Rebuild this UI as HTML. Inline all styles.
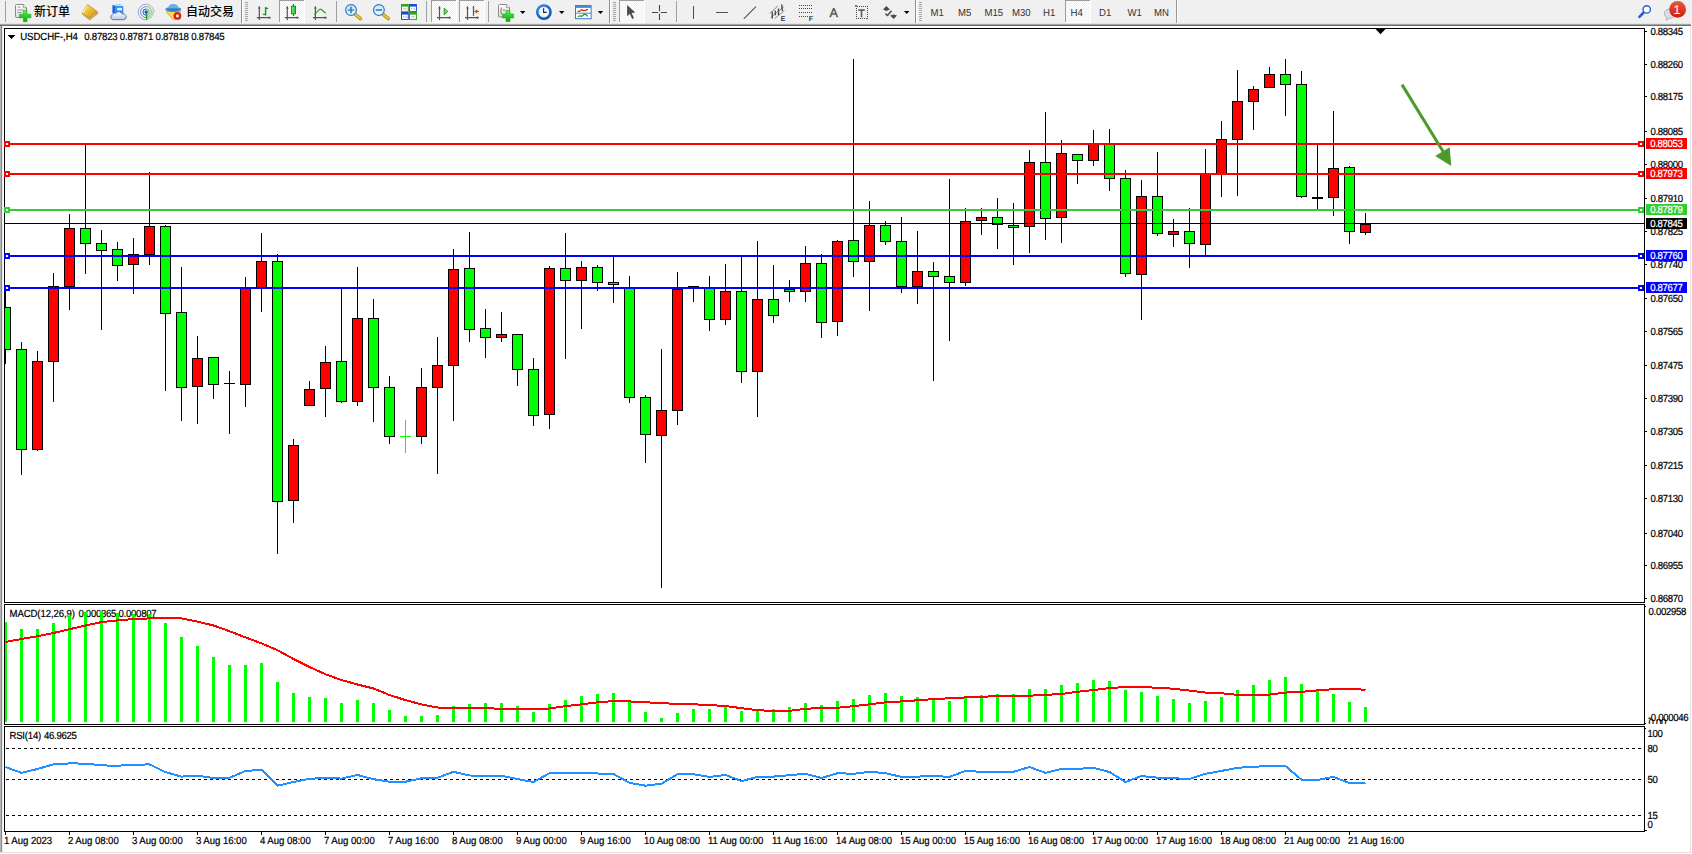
<!DOCTYPE html>
<html><head><meta charset="utf-8"><title>USDCHF-,H4</title>
<style>
html,body{margin:0;padding:0;}
body{width:1692px;height:854px;position:relative;overflow:hidden;background:#fff;font-family:"Liberation Sans","Noto Sans CJK SC",sans-serif;font-size:9.6px;color:#000;text-rendering:geometricPrecision;-webkit-text-stroke:0.2px #000;}
#tb{position:absolute;left:0;top:0;width:1692px;height:24px;background:#f0f0f0;}
#tbline{position:absolute;left:0;top:23px;width:1691px;height:3px;background:linear-gradient(#e4e4e4 0,#e4e4e4 33%,#a4a4a4 33%,#a4a4a4 67%,#6c6c6c 67%);}
#lb{position:absolute;left:0;top:26px;width:3px;height:826px;background:linear-gradient(90deg,#b4b4b4 0,#b4b4b4 33%,#8a8a8a 33%,#8a8a8a 67%,#ececec 67%);}
#rb{position:absolute;left:1690px;top:26px;width:1px;height:827px;background:#e2e2e2;}
#bb{position:absolute;left:0;top:852px;width:1691px;height:1px;background:#e2e2e2;}
svg{position:absolute;left:0;top:0;}
.pl{position:absolute;left:1650.4px;width:40px;height:12px;line-height:12px;white-space:nowrap;letter-spacing:-0.34px;transform:scaleY(1.08);}
.tl{position:absolute;top:836.1px;height:12px;line-height:12px;white-space:nowrap;letter-spacing:-0.05px;transform:scaleY(1.08);}
.tag{position:absolute;left:1646px;width:41px;height:11px;line-height:11px;color:#fff;white-space:nowrap;letter-spacing:-0.34px;-webkit-text-stroke:0.2px #fff;}
.tag span{display:inline-block;margin-left:4.2px;position:relative;top:1.1px;transform:scaleY(1.08);}
.t{position:absolute;white-space:nowrap;line-height:12px;height:12px;letter-spacing:-0.14px;transform:scaleY(1.08);}
#tb .zh{position:absolute;top:3.5px;font-size:12px;font-weight:500;line-height:16px;height:16px;white-space:nowrap;}
#tb .tf{position:absolute;top:7.500px;font-size:9.600px;line-height:12px;color:#333;white-space:nowrap;-webkit-text-stroke:0;transform:scaleY(1.06);}
#tb .zh{-webkit-text-stroke:0;text-rendering:auto;}
#tb .sep{position:absolute;top:1px;width:1px;height:21px;background:#a0a0a0;}
#tb .act{position:absolute;top:0;height:22px;background:#fafafa;border:1px solid #c8c8c8;box-sizing:border-box;}

</style></head><body>
<svg width="1692" height="854" viewBox="0 0 1692 854" shape-rendering="crispEdges">
<clipPath id="cp"><rect x="5" y="29" width="1639" height="574"/></clipPath><g clip-path="url(#cp)"><line x1="5.5" x2="5.5" y1="290.0" y2="363.5" stroke="#000" stroke-width="1"/>
<rect x="0.5" y="307.5" width="10" height="41.5" fill="#00ff00" stroke="#000" stroke-width="1"/>
<line x1="21.5" x2="21.5" y1="342.0" y2="474.5" stroke="#000" stroke-width="1"/>
<rect x="16.5" y="349.0" width="10" height="100.0" fill="#00ff00" stroke="#000" stroke-width="1"/>
<line x1="37.5" x2="37.5" y1="351.0" y2="450.5" stroke="#000" stroke-width="1"/>
<rect x="32.5" y="361.0" width="10" height="88.0" fill="#ff0000" stroke="#000" stroke-width="1"/>
<line x1="53.5" x2="53.5" y1="273.0" y2="401.5" stroke="#000" stroke-width="1"/>
<rect x="48.5" y="286.5" width="10" height="74.5" fill="#ff0000" stroke="#000" stroke-width="1"/>
<line x1="69.5" x2="69.5" y1="214.0" y2="310.0" stroke="#000" stroke-width="1"/>
<rect x="64.5" y="228.0" width="10" height="58.5" fill="#ff0000" stroke="#000" stroke-width="1"/>
<line x1="85.5" x2="85.5" y1="145.0" y2="273.5" stroke="#000" stroke-width="1"/>
<rect x="80.5" y="228.0" width="10" height="15.0" fill="#00ff00" stroke="#000" stroke-width="1"/>
<line x1="101.5" x2="101.5" y1="229.6" y2="329.5" stroke="#000" stroke-width="1"/>
<rect x="96.5" y="243.5" width="10" height="7.0" fill="#00ff00" stroke="#000" stroke-width="1"/>
<line x1="117.5" x2="117.5" y1="241.5" y2="280.5" stroke="#000" stroke-width="1"/>
<rect x="112.5" y="249.7" width="10" height="15.3" fill="#00ff00" stroke="#000" stroke-width="1"/>
<line x1="133.5" x2="133.5" y1="238.0" y2="294.0" stroke="#000" stroke-width="1"/>
<rect x="128.5" y="254.6" width="10" height="9.4" fill="#ff0000" stroke="#000" stroke-width="1"/>
<line x1="149.5" x2="149.5" y1="172.0" y2="264.5" stroke="#000" stroke-width="1"/>
<rect x="144.5" y="226.0" width="10" height="28.0" fill="#ff0000" stroke="#000" stroke-width="1"/>
<line x1="165.5" x2="165.5" y1="225.0" y2="390.5" stroke="#000" stroke-width="1"/>
<rect x="160.5" y="226.0" width="10" height="87.0" fill="#00ff00" stroke="#000" stroke-width="1"/>
<line x1="181.5" x2="181.5" y1="267.0" y2="421.0" stroke="#000" stroke-width="1"/>
<rect x="176.5" y="312.0" width="10" height="75.0" fill="#00ff00" stroke="#000" stroke-width="1"/>
<line x1="197.5" x2="197.5" y1="336.0" y2="423.5" stroke="#000" stroke-width="1"/>
<rect x="192.5" y="358.0" width="10" height="28.0" fill="#ff0000" stroke="#000" stroke-width="1"/>
<line x1="213.5" x2="213.5" y1="357.0" y2="398.5" stroke="#000" stroke-width="1"/>
<rect x="208.5" y="357.0" width="10" height="27.0" fill="#00ff00" stroke="#000" stroke-width="1"/>
<line x1="229.5" x2="229.5" y1="371.0" y2="434.0" stroke="#000" stroke-width="1"/>
<line x1="224" x2="235" y1="383.5" y2="383.5" stroke="#000" stroke-width="1"/>
<line x1="245.5" x2="245.5" y1="276.6" y2="407.0" stroke="#000" stroke-width="1"/>
<rect x="240.5" y="287.7" width="10" height="96.3" fill="#ff0000" stroke="#000" stroke-width="1"/>
<line x1="261.5" x2="261.5" y1="233.0" y2="312.0" stroke="#000" stroke-width="1"/>
<rect x="256.5" y="261.0" width="10" height="26.7" fill="#ff0000" stroke="#000" stroke-width="1"/>
<line x1="277.5" x2="277.5" y1="254.4" y2="553.5" stroke="#000" stroke-width="1"/>
<rect x="272.5" y="261.0" width="10" height="240.0" fill="#00ff00" stroke="#000" stroke-width="1"/>
<line x1="293.5" x2="293.5" y1="438.8" y2="522.8" stroke="#000" stroke-width="1"/>
<rect x="288.5" y="445.0" width="10" height="55.0" fill="#ff0000" stroke="#000" stroke-width="1"/>
<line x1="309.5" x2="309.5" y1="381.0" y2="405.5" stroke="#000" stroke-width="1"/>
<rect x="304.5" y="389.0" width="10" height="16.0" fill="#ff0000" stroke="#000" stroke-width="1"/>
<line x1="325.5" x2="325.5" y1="346.0" y2="416.5" stroke="#000" stroke-width="1"/>
<rect x="320.5" y="362.0" width="10" height="26.0" fill="#ff0000" stroke="#000" stroke-width="1"/>
<line x1="341.5" x2="341.5" y1="288.4" y2="402.5" stroke="#000" stroke-width="1"/>
<rect x="336.5" y="361.3" width="10" height="39.7" fill="#00ff00" stroke="#000" stroke-width="1"/>
<line x1="357.5" x2="357.5" y1="267.0" y2="406.1" stroke="#000" stroke-width="1"/>
<rect x="352.5" y="318.3" width="10" height="82.7" fill="#ff0000" stroke="#000" stroke-width="1"/>
<line x1="373.5" x2="373.5" y1="299.0" y2="422.1" stroke="#000" stroke-width="1"/>
<rect x="368.5" y="318.3" width="10" height="68.7" fill="#00ff00" stroke="#000" stroke-width="1"/>
<line x1="389.5" x2="389.5" y1="376.0" y2="443.5" stroke="#000" stroke-width="1"/>
<rect x="384.5" y="387.0" width="10" height="49.0" fill="#00ff00" stroke="#000" stroke-width="1"/>
<line x1="405.5" x2="405.5" y1="420.0" y2="452.5" stroke="#00ff00" stroke-width="1"/>
<line x1="400" x2="411" y1="436.5" y2="436.5" stroke="#00ff00" stroke-width="1"/>
<line x1="421.5" x2="421.5" y1="368.0" y2="443.5" stroke="#000" stroke-width="1"/>
<rect x="416.5" y="387.0" width="10" height="49.0" fill="#ff0000" stroke="#000" stroke-width="1"/>
<line x1="437.5" x2="437.5" y1="337.0" y2="473.5" stroke="#000" stroke-width="1"/>
<rect x="432.5" y="365.0" width="10" height="22.0" fill="#ff0000" stroke="#000" stroke-width="1"/>
<line x1="453.5" x2="453.5" y1="249.0" y2="420.5" stroke="#000" stroke-width="1"/>
<rect x="448.5" y="269.0" width="10" height="96.0" fill="#ff0000" stroke="#000" stroke-width="1"/>
<line x1="469.5" x2="469.5" y1="232.3" y2="341.5" stroke="#000" stroke-width="1"/>
<rect x="464.5" y="268.3" width="10" height="61.1" fill="#00ff00" stroke="#000" stroke-width="1"/>
<line x1="485.5" x2="485.5" y1="309.0" y2="357.5" stroke="#000" stroke-width="1"/>
<rect x="480.5" y="328.5" width="10" height="8.5" fill="#00ff00" stroke="#000" stroke-width="1"/>
<line x1="501.5" x2="501.5" y1="312.0" y2="341.5" stroke="#000" stroke-width="1"/>
<rect x="496.5" y="334.3" width="10" height="2.7" fill="#ff0000" stroke="#000" stroke-width="1"/>
<line x1="517.5" x2="517.5" y1="334.3" y2="385.5" stroke="#000" stroke-width="1"/>
<rect x="512.5" y="334.3" width="10" height="34.7" fill="#00ff00" stroke="#000" stroke-width="1"/>
<line x1="533.5" x2="533.5" y1="358.0" y2="425.5" stroke="#000" stroke-width="1"/>
<rect x="528.5" y="369.0" width="10" height="46.0" fill="#00ff00" stroke="#000" stroke-width="1"/>
<line x1="549.5" x2="549.5" y1="266.0" y2="428.5" stroke="#000" stroke-width="1"/>
<rect x="544.5" y="268.3" width="10" height="145.7" fill="#ff0000" stroke="#000" stroke-width="1"/>
<line x1="565.5" x2="565.5" y1="233.0" y2="359.0" stroke="#000" stroke-width="1"/>
<rect x="560.5" y="268.3" width="10" height="11.7" fill="#00ff00" stroke="#000" stroke-width="1"/>
<line x1="581.5" x2="581.5" y1="261.0" y2="329.0" stroke="#000" stroke-width="1"/>
<rect x="576.5" y="267.5" width="10" height="12.5" fill="#ff0000" stroke="#000" stroke-width="1"/>
<line x1="597.5" x2="597.5" y1="265.4" y2="290.9" stroke="#000" stroke-width="1"/>
<rect x="592.5" y="267.5" width="10" height="14.5" fill="#00ff00" stroke="#000" stroke-width="1"/>
<line x1="613.5" x2="613.5" y1="256.4" y2="302.5" stroke="#000" stroke-width="1"/>
<rect x="608.5" y="282.0" width="10" height="2.6" fill="#00ff00" stroke="#000" stroke-width="1"/>
<line x1="629.5" x2="629.5" y1="276.0" y2="403.1" stroke="#000" stroke-width="1"/>
<rect x="624.5" y="287.0" width="10" height="110.3" fill="#00ff00" stroke="#000" stroke-width="1"/>
<line x1="645.5" x2="645.5" y1="395.0" y2="463.0" stroke="#000" stroke-width="1"/>
<rect x="640.5" y="397.3" width="10" height="36.7" fill="#00ff00" stroke="#000" stroke-width="1"/>
<line x1="661.5" x2="661.5" y1="349.0" y2="587.5" stroke="#000" stroke-width="1"/>
<rect x="656.5" y="410.4" width="10" height="24.6" fill="#ff0000" stroke="#000" stroke-width="1"/>
<line x1="677.5" x2="677.5" y1="272.0" y2="424.5" stroke="#000" stroke-width="1"/>
<rect x="672.5" y="289.0" width="10" height="121.0" fill="#ff0000" stroke="#000" stroke-width="1"/>
<line x1="693.5" x2="693.5" y1="285.5" y2="302.0" stroke="#000" stroke-width="1"/>
<line x1="688" x2="699" y1="286.0" y2="286.0" stroke="#000" stroke-width="1"/>
<line x1="709.5" x2="709.5" y1="276.0" y2="331.0" stroke="#000" stroke-width="1"/>
<rect x="704.5" y="287.0" width="10" height="32.0" fill="#00ff00" stroke="#000" stroke-width="1"/>
<line x1="725.5" x2="725.5" y1="264.0" y2="324.9" stroke="#000" stroke-width="1"/>
<rect x="720.5" y="291.0" width="10" height="28.0" fill="#ff0000" stroke="#000" stroke-width="1"/>
<line x1="741.5" x2="741.5" y1="256.4" y2="383.1" stroke="#000" stroke-width="1"/>
<rect x="736.5" y="291.0" width="10" height="80.0" fill="#00ff00" stroke="#000" stroke-width="1"/>
<line x1="757.5" x2="757.5" y1="240.7" y2="416.5" stroke="#000" stroke-width="1"/>
<rect x="752.5" y="299.4" width="10" height="71.6" fill="#ff0000" stroke="#000" stroke-width="1"/>
<line x1="773.5" x2="773.5" y1="265.4" y2="322.8" stroke="#000" stroke-width="1"/>
<rect x="768.5" y="299.4" width="10" height="16.0" fill="#00ff00" stroke="#000" stroke-width="1"/>
<line x1="789.5" x2="789.5" y1="280.0" y2="302.0" stroke="#000" stroke-width="1"/>
<rect x="784.5" y="289.0" width="10" height="2.6" fill="#00ff00" stroke="#000" stroke-width="1"/>
<line x1="805.5" x2="805.5" y1="245.7" y2="302.0" stroke="#000" stroke-width="1"/>
<rect x="800.5" y="263.4" width="10" height="28.2" fill="#ff0000" stroke="#000" stroke-width="1"/>
<line x1="821.5" x2="821.5" y1="254.3" y2="338.0" stroke="#000" stroke-width="1"/>
<rect x="816.5" y="263.4" width="10" height="58.9" fill="#00ff00" stroke="#000" stroke-width="1"/>
<line x1="837.5" x2="837.5" y1="240.0" y2="335.9" stroke="#000" stroke-width="1"/>
<rect x="832.5" y="241.0" width="10" height="80.4" fill="#ff0000" stroke="#000" stroke-width="1"/>
<line x1="853.5" x2="853.5" y1="58.8" y2="276.9" stroke="#000" stroke-width="1"/>
<rect x="848.5" y="240.3" width="10" height="20.9" fill="#00ff00" stroke="#000" stroke-width="1"/>
<line x1="869.5" x2="869.5" y1="201.0" y2="310.9" stroke="#000" stroke-width="1"/>
<rect x="864.5" y="225.2" width="10" height="36.0" fill="#ff0000" stroke="#000" stroke-width="1"/>
<line x1="885.5" x2="885.5" y1="220.7" y2="244.5" stroke="#000" stroke-width="1"/>
<rect x="880.5" y="225.2" width="10" height="16.0" fill="#00ff00" stroke="#000" stroke-width="1"/>
<line x1="901.5" x2="901.5" y1="217.0" y2="292.9" stroke="#000" stroke-width="1"/>
<rect x="896.5" y="241.2" width="10" height="45.4" fill="#00ff00" stroke="#000" stroke-width="1"/>
<line x1="917.5" x2="917.5" y1="231.0" y2="303.9" stroke="#000" stroke-width="1"/>
<rect x="912.5" y="271.0" width="10" height="15.6" fill="#ff0000" stroke="#000" stroke-width="1"/>
<line x1="933.5" x2="933.5" y1="262.0" y2="380.5" stroke="#000" stroke-width="1"/>
<rect x="928.5" y="271.0" width="10" height="5.4" fill="#00ff00" stroke="#000" stroke-width="1"/>
<line x1="949.5" x2="949.5" y1="179.3" y2="340.8" stroke="#000" stroke-width="1"/>
<rect x="944.5" y="276.4" width="10" height="5.6" fill="#00ff00" stroke="#000" stroke-width="1"/>
<line x1="965.5" x2="965.5" y1="208.0" y2="285.5" stroke="#000" stroke-width="1"/>
<rect x="960.5" y="221.0" width="10" height="61.0" fill="#ff0000" stroke="#000" stroke-width="1"/>
<line x1="981.5" x2="981.5" y1="208.0" y2="234.7" stroke="#000" stroke-width="1"/>
<rect x="976.5" y="217.4" width="10" height="2.9" fill="#ff0000" stroke="#000" stroke-width="1"/>
<line x1="997.5" x2="997.5" y1="197.7" y2="248.5" stroke="#000" stroke-width="1"/>
<rect x="992.5" y="217.4" width="10" height="6.9" fill="#00ff00" stroke="#000" stroke-width="1"/>
<line x1="1013.5" x2="1013.5" y1="203.0" y2="265.0" stroke="#000" stroke-width="1"/>
<rect x="1008.5" y="225.6" width="10" height="1.6" fill="#00ff00" stroke="#000" stroke-width="1"/>
<line x1="1029.5" x2="1029.5" y1="149.8" y2="252.7" stroke="#000" stroke-width="1"/>
<rect x="1024.5" y="162.0" width="10" height="64.0" fill="#ff0000" stroke="#000" stroke-width="1"/>
<line x1="1045.5" x2="1045.5" y1="112.0" y2="240.0" stroke="#000" stroke-width="1"/>
<rect x="1040.5" y="162.0" width="10" height="56.2" fill="#00ff00" stroke="#000" stroke-width="1"/>
<line x1="1061.5" x2="1061.5" y1="140.0" y2="242.9" stroke="#000" stroke-width="1"/>
<rect x="1056.5" y="153.5" width="10" height="63.9" fill="#ff0000" stroke="#000" stroke-width="1"/>
<line x1="1077.5" x2="1077.5" y1="154.3" y2="183.9" stroke="#000" stroke-width="1"/>
<rect x="1072.5" y="154.3" width="10" height="6.1" fill="#00ff00" stroke="#000" stroke-width="1"/>
<line x1="1093.5" x2="1093.5" y1="130.0" y2="165.9" stroke="#000" stroke-width="1"/>
<rect x="1088.5" y="144.5" width="10" height="15.9" fill="#ff0000" stroke="#000" stroke-width="1"/>
<line x1="1109.5" x2="1109.5" y1="129.0" y2="191.3" stroke="#000" stroke-width="1"/>
<rect x="1104.5" y="144.5" width="10" height="34.0" fill="#00ff00" stroke="#000" stroke-width="1"/>
<line x1="1125.5" x2="1125.5" y1="170.3" y2="276.9" stroke="#000" stroke-width="1"/>
<rect x="1120.5" y="178.0" width="10" height="95.5" fill="#00ff00" stroke="#000" stroke-width="1"/>
<line x1="1141.5" x2="1141.5" y1="180.0" y2="320.3" stroke="#000" stroke-width="1"/>
<rect x="1136.5" y="196.0" width="10" height="78.3" fill="#ff0000" stroke="#000" stroke-width="1"/>
<line x1="1157.5" x2="1157.5" y1="151.8" y2="235.9" stroke="#000" stroke-width="1"/>
<rect x="1152.5" y="196.0" width="10" height="37.0" fill="#00ff00" stroke="#000" stroke-width="1"/>
<line x1="1173.5" x2="1173.5" y1="219.4" y2="247.0" stroke="#000" stroke-width="1"/>
<rect x="1168.5" y="231.3" width="10" height="2.9" fill="#ff0000" stroke="#000" stroke-width="1"/>
<line x1="1189.5" x2="1189.5" y1="208.0" y2="267.9" stroke="#000" stroke-width="1"/>
<rect x="1184.5" y="231.3" width="10" height="11.9" fill="#00ff00" stroke="#000" stroke-width="1"/>
<line x1="1205.5" x2="1205.5" y1="149.0" y2="255.5" stroke="#000" stroke-width="1"/>
<rect x="1200.5" y="174.8" width="10" height="69.2" fill="#ff0000" stroke="#000" stroke-width="1"/>
<line x1="1221.5" x2="1221.5" y1="121.0" y2="197.0" stroke="#000" stroke-width="1"/>
<rect x="1216.5" y="139.5" width="10" height="34.5" fill="#ff0000" stroke="#000" stroke-width="1"/>
<line x1="1237.5" x2="1237.5" y1="70.0" y2="196.2" stroke="#000" stroke-width="1"/>
<rect x="1232.5" y="101.4" width="10" height="37.6" fill="#ff0000" stroke="#000" stroke-width="1"/>
<line x1="1253.5" x2="1253.5" y1="86.3" y2="130.2" stroke="#000" stroke-width="1"/>
<rect x="1248.5" y="89.6" width="10" height="11.8" fill="#ff0000" stroke="#000" stroke-width="1"/>
<line x1="1269.5" x2="1269.5" y1="67.0" y2="88.0" stroke="#000" stroke-width="1"/>
<rect x="1264.5" y="74.4" width="10" height="13.1" fill="#ff0000" stroke="#000" stroke-width="1"/>
<line x1="1285.5" x2="1285.5" y1="58.8" y2="116.3" stroke="#000" stroke-width="1"/>
<rect x="1280.5" y="74.4" width="10" height="9.8" fill="#00ff00" stroke="#000" stroke-width="1"/>
<line x1="1301.5" x2="1301.5" y1="71.0" y2="198.2" stroke="#000" stroke-width="1"/>
<rect x="1296.5" y="84.2" width="10" height="112.3" fill="#00ff00" stroke="#000" stroke-width="1"/>
<line x1="1317.5" x2="1317.5" y1="144.5" y2="209.3" stroke="#000" stroke-width="1"/>
<line x1="1312" x2="1323" y1="198.2" y2="198.2" stroke="#000" stroke-width="1.6"/>
<line x1="1333.5" x2="1333.5" y1="111.3" y2="215.5" stroke="#000" stroke-width="1"/>
<rect x="1328.5" y="168.2" width="10" height="29.1" fill="#ff0000" stroke="#000" stroke-width="1"/>
<line x1="1349.5" x2="1349.5" y1="166.0" y2="244.1" stroke="#000" stroke-width="1"/>
<rect x="1344.5" y="167.4" width="10" height="63.9" fill="#00ff00" stroke="#000" stroke-width="1"/>
<line x1="1365.5" x2="1365.5" y1="213.0" y2="234.5" stroke="#000" stroke-width="1"/>
<rect x="1360.5" y="224.0" width="10" height="8.5" fill="#ff0000" stroke="#000" stroke-width="1"/></g>
<line x1="5" x2="1644" y1="223.5" y2="223.5" stroke="#000" stroke-width="1"/>
<line x1="5" x2="1644" y1="144" y2="144" stroke="#ff0000" stroke-width="2"/>
<rect x="1638" y="141" width="6" height="6" fill="#ff0000"/><rect x="1640" y="143" width="2" height="2" fill="#fff"/>
<line x1="5" x2="1644" y1="174" y2="174" stroke="#ff0000" stroke-width="2"/>
<rect x="1638" y="171" width="6" height="6" fill="#ff0000"/><rect x="1640" y="173" width="2" height="2" fill="#fff"/>
<line x1="5" x2="1644" y1="210" y2="210" stroke="#32cd32" stroke-width="2"/>
<rect x="1638" y="207" width="6" height="6" fill="#32cd32"/><rect x="1640" y="209" width="2" height="2" fill="#fff"/>
<line x1="5" x2="1644" y1="256" y2="256" stroke="#0000ff" stroke-width="2"/>
<rect x="1638" y="253" width="6" height="6" fill="#0000ff"/><rect x="1640" y="255" width="2" height="2" fill="#fff"/>
<line x1="5" x2="1644" y1="288" y2="288" stroke="#0000ff" stroke-width="2"/>
<rect x="1638" y="285" width="6" height="6" fill="#0000ff"/><rect x="1640" y="287" width="2" height="2" fill="#fff"/>
<g shape-rendering="auto"><line x1="1402" y1="84.6" x2="1444" y2="153" stroke="#4c9a2a" stroke-width="3"/>
<polygon points="1451.3,166 1435.2,156 1449.7,147.3" fill="#4c9a2a"/></g>
<clipPath id="cp2"><rect x="5" y="605" width="1639" height="118.5"/></clipPath><g clip-path="url(#cp2)"><rect x="4" y="622.1" width="3" height="99.9" fill="#00ff00"/>
<rect x="20" y="629.0" width="3" height="93.0" fill="#00ff00"/>
<rect x="36" y="629.0" width="3" height="93.0" fill="#00ff00"/>
<rect x="52" y="623.3" width="3" height="98.7" fill="#00ff00"/>
<rect x="68" y="615.6" width="3" height="106.4" fill="#00ff00"/>
<rect x="84" y="612.0" width="3" height="110.0" fill="#00ff00"/>
<rect x="100" y="611.0" width="3" height="111.0" fill="#00ff00"/>
<rect x="116" y="613.0" width="3" height="109.0" fill="#00ff00"/>
<rect x="132" y="613.5" width="3" height="108.5" fill="#00ff00"/>
<rect x="148" y="614.2" width="3" height="107.8" fill="#00ff00"/>
<rect x="164" y="623.3" width="3" height="98.7" fill="#00ff00"/>
<rect x="180" y="636.9" width="3" height="85.1" fill="#00ff00"/>
<rect x="196" y="646.2" width="3" height="75.8" fill="#00ff00"/>
<rect x="212" y="657.0" width="3" height="65.0" fill="#00ff00"/>
<rect x="228" y="665.2" width="3" height="56.8" fill="#00ff00"/>
<rect x="244" y="665.2" width="3" height="56.8" fill="#00ff00"/>
<rect x="260" y="663.0" width="3" height="59.0" fill="#00ff00"/>
<rect x="276" y="682.3" width="3" height="39.7" fill="#00ff00"/>
<rect x="292" y="693.0" width="3" height="29.0" fill="#00ff00"/>
<rect x="308" y="697.0" width="3" height="25.0" fill="#00ff00"/>
<rect x="324" y="698.2" width="3" height="23.8" fill="#00ff00"/>
<rect x="340" y="703.0" width="3" height="19.0" fill="#00ff00"/>
<rect x="356" y="700.1" width="3" height="21.9" fill="#00ff00"/>
<rect x="372" y="703.0" width="3" height="19.0" fill="#00ff00"/>
<rect x="388" y="710.0" width="3" height="12.0" fill="#00ff00"/>
<rect x="404" y="715.7" width="3" height="6.3" fill="#00ff00"/>
<rect x="420" y="715.7" width="3" height="6.3" fill="#00ff00"/>
<rect x="436" y="714.9" width="3" height="7.1" fill="#00ff00"/>
<rect x="452" y="706.0" width="3" height="16.0" fill="#00ff00"/>
<rect x="468" y="704.0" width="3" height="18.0" fill="#00ff00"/>
<rect x="484" y="703.1" width="3" height="18.9" fill="#00ff00"/>
<rect x="500" y="703.1" width="3" height="18.9" fill="#00ff00"/>
<rect x="516" y="706.0" width="3" height="16.0" fill="#00ff00"/>
<rect x="532" y="711.9" width="3" height="10.1" fill="#00ff00"/>
<rect x="548" y="704.0" width="3" height="18.0" fill="#00ff00"/>
<rect x="564" y="700.0" width="3" height="22.0" fill="#00ff00"/>
<rect x="580" y="696.0" width="3" height="26.0" fill="#00ff00"/>
<rect x="596" y="694.0" width="3" height="28.0" fill="#00ff00"/>
<rect x="612" y="693.2" width="3" height="28.8" fill="#00ff00"/>
<rect x="628" y="702.0" width="3" height="20.0" fill="#00ff00"/>
<rect x="644" y="711.9" width="3" height="10.1" fill="#00ff00"/>
<rect x="660" y="718.2" width="3" height="3.8" fill="#00ff00"/>
<rect x="676" y="713.0" width="3" height="9.0" fill="#00ff00"/>
<rect x="692" y="709.0" width="3" height="13.0" fill="#00ff00"/>
<rect x="708" y="709.0" width="3" height="13.0" fill="#00ff00"/>
<rect x="724" y="707.0" width="3" height="15.0" fill="#00ff00"/>
<rect x="740" y="711.0" width="3" height="11.0" fill="#00ff00"/>
<rect x="756" y="710.0" width="3" height="12.0" fill="#00ff00"/>
<rect x="772" y="709.0" width="3" height="13.0" fill="#00ff00"/>
<rect x="788" y="707.0" width="3" height="15.0" fill="#00ff00"/>
<rect x="804" y="703.1" width="3" height="18.9" fill="#00ff00"/>
<rect x="820" y="704.8" width="3" height="17.2" fill="#00ff00"/>
<rect x="836" y="701.1" width="3" height="20.9" fill="#00ff00"/>
<rect x="852" y="699.1" width="3" height="22.9" fill="#00ff00"/>
<rect x="868" y="695.2" width="3" height="26.8" fill="#00ff00"/>
<rect x="884" y="693.2" width="3" height="28.8" fill="#00ff00"/>
<rect x="900" y="696.0" width="3" height="26.0" fill="#00ff00"/>
<rect x="916" y="697.2" width="3" height="24.8" fill="#00ff00"/>
<rect x="932" y="699.1" width="3" height="22.9" fill="#00ff00"/>
<rect x="948" y="701.1" width="3" height="20.9" fill="#00ff00"/>
<rect x="964" y="698.0" width="3" height="24.0" fill="#00ff00"/>
<rect x="980" y="695.2" width="3" height="26.8" fill="#00ff00"/>
<rect x="996" y="694.0" width="3" height="28.0" fill="#00ff00"/>
<rect x="1012" y="694.0" width="3" height="28.0" fill="#00ff00"/>
<rect x="1028" y="689.0" width="3" height="33.0" fill="#00ff00"/>
<rect x="1044" y="689.0" width="3" height="33.0" fill="#00ff00"/>
<rect x="1060" y="685.0" width="3" height="37.0" fill="#00ff00"/>
<rect x="1076" y="683.0" width="3" height="39.0" fill="#00ff00"/>
<rect x="1092" y="679.9" width="3" height="42.1" fill="#00ff00"/>
<rect x="1108" y="681.0" width="3" height="41.0" fill="#00ff00"/>
<rect x="1124" y="690.0" width="3" height="32.0" fill="#00ff00"/>
<rect x="1140" y="692.0" width="3" height="30.0" fill="#00ff00"/>
<rect x="1156" y="696.0" width="3" height="26.0" fill="#00ff00"/>
<rect x="1172" y="699.1" width="3" height="22.9" fill="#00ff00"/>
<rect x="1188" y="703.1" width="3" height="18.9" fill="#00ff00"/>
<rect x="1204" y="701.1" width="3" height="20.9" fill="#00ff00"/>
<rect x="1220" y="697.2" width="3" height="24.8" fill="#00ff00"/>
<rect x="1236" y="690.0" width="3" height="32.0" fill="#00ff00"/>
<rect x="1252" y="685.0" width="3" height="37.0" fill="#00ff00"/>
<rect x="1268" y="679.9" width="3" height="42.1" fill="#00ff00"/>
<rect x="1284" y="677.0" width="3" height="45.0" fill="#00ff00"/>
<rect x="1300" y="684.1" width="3" height="37.9" fill="#00ff00"/>
<rect x="1316" y="691.2" width="3" height="30.8" fill="#00ff00"/>
<rect x="1332" y="694.0" width="3" height="28.0" fill="#00ff00"/>
<rect x="1348" y="702.0" width="3" height="20.0" fill="#00ff00"/>
<rect x="1364" y="707.1" width="3" height="14.9" fill="#00ff00"/>
<polyline points="5.5,642.0 21.5,639.0 37.5,636.3 53.5,633.0 69.5,629.2 85.5,625.5 101.5,622.1 117.5,620.4 133.5,619.0 149.5,618.4 165.5,618.2 181.5,618.4 197.5,621.6 213.5,625.5 229.5,631.2 245.5,637.4 261.5,643.4 277.5,650.2 293.5,659.0 309.5,667.0 325.5,674.3 341.5,680.0 357.5,684.5 373.5,688.5 389.5,695.0 405.5,700.1 421.5,704.4 437.5,707.5 453.5,708.0 469.5,708.0 485.5,708.2 501.5,708.8 517.5,708.8 533.5,708.8 549.5,708.5 565.5,706.2 581.5,704.3 597.5,702.3 613.5,701.1 629.5,701.4 645.5,702.3 661.5,703.1 677.5,704.0 693.5,704.3 709.5,705.1 725.5,706.0 741.5,708.2 757.5,710.2 773.5,711.0 789.5,710.8 805.5,708.8 821.5,708.0 837.5,707.7 853.5,706.2 869.5,704.3 885.5,702.3 901.5,701.4 917.5,700.3 933.5,699.1 949.5,698.3 965.5,697.4 981.5,696.9 997.5,696.0 1013.5,695.7 1029.5,695.7 1045.5,694.9 1061.5,694.0 1077.5,691.8 1093.5,690.0 1109.5,688.1 1125.5,687.0 1141.5,687.0 1157.5,687.8 1173.5,688.7 1189.5,690.6 1205.5,692.6 1221.5,693.2 1237.5,694.9 1253.5,694.9 1269.5,694.6 1285.5,692.6 1301.5,691.8 1317.5,690.4 1333.5,689.2 1349.5,688.7 1365.5,689.8" fill="none" stroke="#ff0000" stroke-width="2" stroke-linejoin="round"/></g>
<line x1="6" x2="1644" y1="748.5" y2="748.5" stroke="#000" stroke-width="1" stroke-dasharray="3,3"/>
<line x1="6" x2="1644" y1="779.5" y2="779.5" stroke="#000" stroke-width="1" stroke-dasharray="3,3"/>
<line x1="6" x2="1644" y1="815.5" y2="815.5" stroke="#000" stroke-width="1" stroke-dasharray="3,3"/>
<polyline points="5.5,767.0 21.5,772.9 37.5,769.0 53.5,764.3 69.5,763.4 85.5,763.6 101.5,765.4 117.5,765.7 133.5,764.8 149.5,764.4 165.5,772.1 181.5,776.6 197.5,775.8 213.5,778.0 229.5,777.8 245.5,771.0 261.5,769.8 277.5,785.7 293.5,782.0 309.5,778.9 325.5,777.8 341.5,778.6 357.5,775.0 373.5,779.2 389.5,781.7 405.5,781.7 421.5,778.3 437.5,777.8 453.5,771.8 469.5,775.5 485.5,775.7 501.5,775.7 517.5,779.1 533.5,782.0 549.5,773.2 565.5,773.2 581.5,773.2 597.5,773.5 613.5,774.0 629.5,782.8 645.5,785.7 661.5,783.7 677.5,774.3 693.5,774.3 709.5,776.9 725.5,774.9 741.5,781.1 757.5,776.9 773.5,776.6 789.5,775.2 805.5,773.8 821.5,778.0 837.5,773.2 853.5,773.8 869.5,771.8 885.5,773.2 901.5,776.9 917.5,776.6 933.5,776.0 949.5,776.9 965.5,770.9 981.5,771.8 997.5,771.8 1013.5,771.8 1029.5,767.0 1045.5,772.9 1061.5,768.9 1077.5,768.9 1093.5,767.8 1109.5,772.0 1125.5,782.0 1141.5,776.0 1157.5,777.7 1173.5,778.3 1189.5,778.9 1205.5,773.8 1221.5,770.9 1237.5,767.8 1253.5,766.7 1269.5,766.1 1285.5,766.1 1301.5,779.7 1317.5,780.0 1333.5,776.9 1349.5,783.1 1365.5,782.8" fill="none" stroke="#1e90ff" stroke-width="2" stroke-linejoin="round"/>

<rect x="4.5" y="28.5" width="1640" height="574" fill="none" stroke="#000"/>
<rect x="4.5" y="604.5" width="1640" height="120" fill="none" stroke="#000"/>
<rect x="4.5" y="726.5" width="1640" height="105" fill="none" stroke="#000"/>

<rect x="4" y="141" width="6" height="6" fill="#ff0000"/><rect x="6" y="143" width="2" height="2" fill="#fff"/><rect x="4" y="171" width="6" height="6" fill="#ff0000"/><rect x="6" y="173" width="2" height="2" fill="#fff"/><rect x="4" y="207" width="6" height="6" fill="#32cd32"/><rect x="6" y="209" width="2" height="2" fill="#fff"/><rect x="4" y="253" width="6" height="6" fill="#0000ff"/><rect x="6" y="255" width="2" height="2" fill="#fff"/><rect x="4" y="285" width="6" height="6" fill="#0000ff"/><rect x="6" y="287" width="2" height="2" fill="#fff"/>
<line x1="1645" x2="1647" y1="31.5" y2="31.5" stroke="#000"/><line x1="1645" x2="1647" y1="64.5" y2="64.5" stroke="#000"/><line x1="1645" x2="1647" y1="96.5" y2="96.5" stroke="#000"/><line x1="1645" x2="1647" y1="131.5" y2="131.5" stroke="#000"/><line x1="1645" x2="1647" y1="164.5" y2="164.5" stroke="#000"/><line x1="1645" x2="1647" y1="198.5" y2="198.5" stroke="#000"/><line x1="1645" x2="1647" y1="231.5" y2="231.5" stroke="#000"/><line x1="1645" x2="1647" y1="264.5" y2="264.5" stroke="#000"/><line x1="1645" x2="1647" y1="298.5" y2="298.5" stroke="#000"/><line x1="1645" x2="1647" y1="331.5" y2="331.5" stroke="#000"/><line x1="1645" x2="1647" y1="365.5" y2="365.5" stroke="#000"/><line x1="1645" x2="1647" y1="398.5" y2="398.5" stroke="#000"/><line x1="1645" x2="1647" y1="431.5" y2="431.5" stroke="#000"/><line x1="1645" x2="1647" y1="465.5" y2="465.5" stroke="#000"/><line x1="1645" x2="1647" y1="498.5" y2="498.5" stroke="#000"/><line x1="1645" x2="1647" y1="533.5" y2="533.5" stroke="#000"/><line x1="1645" x2="1647" y1="565.5" y2="565.5" stroke="#000"/><line x1="1645" x2="1647" y1="598.5" y2="598.5" stroke="#000"/><line x1="5.5" x2="5.5" y1="832" y2="835" stroke="#000"/><line x1="69.5" x2="69.5" y1="832" y2="835" stroke="#000"/><line x1="133.5" x2="133.5" y1="832" y2="835" stroke="#000"/><line x1="197.5" x2="197.5" y1="832" y2="835" stroke="#000"/><line x1="261.5" x2="261.5" y1="832" y2="835" stroke="#000"/><line x1="325.5" x2="325.5" y1="832" y2="835" stroke="#000"/><line x1="389.5" x2="389.5" y1="832" y2="835" stroke="#000"/><line x1="453.5" x2="453.5" y1="832" y2="835" stroke="#000"/><line x1="517.5" x2="517.5" y1="832" y2="835" stroke="#000"/><line x1="581.5" x2="581.5" y1="832" y2="835" stroke="#000"/><line x1="645.5" x2="645.5" y1="832" y2="835" stroke="#000"/><line x1="709.5" x2="709.5" y1="832" y2="835" stroke="#000"/><line x1="773.5" x2="773.5" y1="832" y2="835" stroke="#000"/><line x1="837.5" x2="837.5" y1="832" y2="835" stroke="#000"/><line x1="901.5" x2="901.5" y1="832" y2="835" stroke="#000"/><line x1="965.5" x2="965.5" y1="832" y2="835" stroke="#000"/><line x1="1029.5" x2="1029.5" y1="832" y2="835" stroke="#000"/><line x1="1093.5" x2="1093.5" y1="832" y2="835" stroke="#000"/><line x1="1157.5" x2="1157.5" y1="832" y2="835" stroke="#000"/><line x1="1221.5" x2="1221.5" y1="832" y2="835" stroke="#000"/><line x1="1285.5" x2="1285.5" y1="832" y2="835" stroke="#000"/><line x1="1349.5" x2="1349.5" y1="832" y2="835" stroke="#000"/>
<polygon points="1375.5,29 1385.5,29 1380.5,34.2" fill="#000" shape-rendering="auto"/><line x1="1645" x2="1647" y1="830.5" y2="830.5" stroke="#000"/><line x1="1645" x2="1646" y1="606.5" y2="606.5" stroke="#000"/><line x1="1645" x2="1646" y1="723.5" y2="723.5" stroke="#000"/><line x1="1645" x2="1646" y1="728.5" y2="728.5" stroke="#000"/>
<polygon points="8,35 15,35 11.5,39" fill="#000"/>
</svg>
<div class="t" style="left:20.2px;top:32.2px;letter-spacing:-0.04px">USDCHF-,H4</div><div class="t" style="left:84.2px;top:32.2px;letter-spacing:-0.21px">0.87823 0.87871 0.87818 0.87845</div>
<div class="t" style="left:9.5px;top:609.1px;z-index:-1;letter-spacing:-0.1px">MACD(12,26,9)</div><div class="t" style="left:78.4px;top:609.1px;z-index:-1;letter-spacing:-0.28px">0.000365 0.000807</div>
<div class="t" style="left:9.4px;top:730.9px;letter-spacing:-0.19px">RSI(14)</div><div class="t" style="left:44px;top:730.9px;letter-spacing:-0.3px">46.9625</div>
<div class="pl" style="top:27.1px">0.88345</div><div class="pl" style="top:60.1px">0.88260</div><div class="pl" style="top:92.1px">0.88175</div><div class="pl" style="top:127.1px">0.88085</div><div class="pl" style="top:160.1px">0.88000</div><div class="pl" style="top:194.1px">0.87910</div><div class="pl" style="top:227.1px">0.87825</div><div class="pl" style="top:260.1px">0.87740</div><div class="pl" style="top:294.1px">0.87650</div><div class="pl" style="top:327.1px">0.87565</div><div class="pl" style="top:361.1px">0.87475</div><div class="pl" style="top:394.1px">0.87390</div><div class="pl" style="top:427.1px">0.87305</div><div class="pl" style="top:461.1px">0.87215</div><div class="pl" style="top:494.1px">0.87130</div><div class="pl" style="top:529.1px">0.87040</div><div class="pl" style="top:561.1px">0.86955</div><div class="pl" style="top:594.1px">0.86870</div>
<div class="tag" style="top:138px;background:#ff0000"><span>0.88053</span></div><div class="tag" style="top:168px;background:#ff0000"><span>0.87973</span></div><div class="tag" style="top:204px;background:#32cd32"><span>0.87879</span></div><div class="tag" style="top:250px;background:#0000ff"><span>0.87760</span></div><div class="tag" style="top:282px;background:#0000ff"><span>0.87677</span></div><div class="tag" style="top:218px;background:#000000"><span>0.87845</span></div>
<div class="pl" style="top:607px;left:1648.6px">0.002958</div>
<div style="position:absolute;left:1645px;top:700px;width:46px;height:24px;overflow:hidden"><div class="pl" style="top:18.3px;left:3.6px">0.00</div></div>
<div class="pl" style="top:713.4px;left:1648px">-0.000046</div>
<div class="pl" style="top:729.3px;left:1647.6px">100</div>
<div class="pl" style="top:744px;left:1647.6px">80</div>
<div class="pl" style="top:775.1px;left:1647.6px">50</div>
<div class="pl" style="top:811.4px;left:1647.6px">15</div>
<div class="pl" style="top:820.4px;left:1647.6px">0</div>
<div class="tl" style="left:4px">1 Aug 2023</div><div class="tl" style="left:68px">2 Aug 08:00</div><div class="tl" style="left:132px">3 Aug 00:00</div><div class="tl" style="left:196px">3 Aug 16:00</div><div class="tl" style="left:260px">4 Aug 08:00</div><div class="tl" style="left:324px">7 Aug 00:00</div><div class="tl" style="left:388px">7 Aug 16:00</div><div class="tl" style="left:452px">8 Aug 08:00</div><div class="tl" style="left:516px">9 Aug 00:00</div><div class="tl" style="left:580px">9 Aug 16:00</div><div class="tl" style="left:644px">10 Aug 08:00</div><div class="tl" style="left:708px">11 Aug 00:00</div><div class="tl" style="left:772px">11 Aug 16:00</div><div class="tl" style="left:836px">14 Aug 08:00</div><div class="tl" style="left:900px">15 Aug 00:00</div><div class="tl" style="left:964px">15 Aug 16:00</div><div class="tl" style="left:1028px">16 Aug 08:00</div><div class="tl" style="left:1092px">17 Aug 00:00</div><div class="tl" style="left:1156px">17 Aug 16:00</div><div class="tl" style="left:1220px">18 Aug 08:00</div><div class="tl" style="left:1284px">21 Aug 00:00</div><div class="tl" style="left:1348px">21 Aug 16:00</div>
<div id="tb"><svg width="1692" height="24" viewBox="0 0 1692 24" style="position:absolute;left:0;top:0">
<defs>
<linearGradient id="gGold" x1="0" y1="0" x2="1" y2="1"><stop offset="0" stop-color="#fbe27a"/><stop offset=".55" stop-color="#e9b42a"/><stop offset="1" stop-color="#b87a14"/></linearGradient>
<linearGradient id="gPlus" x1="0" y1="0" x2="0" y2="1"><stop offset="0" stop-color="#5af05a"/><stop offset="1" stop-color="#0aa80a"/></linearGradient>
<linearGradient id="gDoc" x1="0" y1="0" x2="0" y2="1"><stop offset="0" stop-color="#ffffff"/><stop offset="1" stop-color="#dcdcdc"/></linearGradient>
<linearGradient id="gCloud" x1="0" y1="0" x2="0" y2="1"><stop offset="0" stop-color="#ffffff"/><stop offset="1" stop-color="#b9c9e6"/></linearGradient>
<linearGradient id="gBadge" x1="0" y1="0" x2="0" y2="1"><stop offset="0" stop-color="#ea5a3a"/><stop offset="1" stop-color="#cf1c0c"/></linearGradient>
<linearGradient id="gLens" x1="0" y1="0" x2="0" y2="1"><stop offset="0" stop-color="#c4e6fb"/><stop offset="1" stop-color="#eefaff"/></linearGradient>
<linearGradient id="gCandle" x1="0" y1="0" x2="1" y2="0"><stop offset="0" stop-color="#7af07a"/><stop offset="1" stop-color="#1fc41f"/></linearGradient>
<radialGradient id="gClock" cx=".4" cy=".35" r=".7"><stop offset="0" stop-color="#4aa0f8"/><stop offset="1" stop-color="#0a4ab0"/></radialGradient>
<g id="axes" fill="none" stroke="#555" stroke-width="1.2"><path d="M3.3 20V6.6M0.8 17.7H14.4"/><path d="M1.9 8.6L3.3 6.2L4.7 8.6zM12.6 16.3L15 17.7L12.6 19.1z" stroke="none" fill="#555"/></g>
<pattern id="dith" width="2" height="2" patternUnits="userSpaceOnUse"><rect width="2" height="2" fill="#f0f0f0"/><rect width="1" height="1" fill="#fff"/><rect x="1" y="1" width="1" height="1" fill="#fff"/></pattern>
<path id="dd" d="M0 0h5.4l-2.7 3z" fill="#000"/>
<g id="grip" fill="#a8a8a8"><rect y="2" width="3" height="1"/><rect y="4" width="3" height="1"/><rect y="6" width="3" height="1"/><rect y="8" width="3" height="1"/><rect y="10" width="3" height="1"/><rect y="12" width="3" height="1"/><rect y="14" width="3" height="1"/><rect y="16" width="3" height="1"/><rect y="18" width="3" height="1"/><rect y="20" width="3" height="1"/></g>
</defs>
<!-- separators -->
<g fill="#a0a0a0">
<rect x="5" y="1" width="1" height="21"/>
<rect x="336" y="1" width="1" height="21"/><rect x="426" y="1" width="1" height="21"/><rect x="488" y="1" width="1" height="21"/>
<rect x="676" y="1" width="1" height="21"/>
</g>
<g><rect x="241" y="0" width="1" height="24" fill="#8e8e8e"/><rect x="242" y="0" width="1" height="24" fill="#fff"/>
<rect x="609" y="0" width="1" height="24" fill="#8e8e8e"/><rect x="610" y="0" width="1" height="24" fill="#fff"/>
<rect x="915" y="0" width="1" height="24" fill="#8e8e8e"/><rect x="916" y="0" width="1" height="24" fill="#fff"/>
<rect x="1176" y="0" width="1" height="24" fill="#9a9a9a"/><rect x="1177" y="0" width="1" height="24" fill="#fff"/></g>
<use href="#grip" x="245"/><use href="#grip" x="613"/><use href="#grip" x="919"/>
<!-- active button backgrounds -->
<g>
<rect x="279" y="0" width="26" height="23" fill="#fff"/><rect x="280" y="1" width="24" height="21" fill="url(#dith)" shape-rendering="crispEdges"/><path d="M279.5 22V.5H304" stroke="#9c9c9c" fill="none" shape-rendering="crispEdges"/>
<rect x="431" y="0" width="26" height="23" fill="#fff"/><rect x="432" y="1" width="24" height="21" fill="url(#dith)" shape-rendering="crispEdges"/><path d="M431.5 22V.5H456" stroke="#9c9c9c" fill="none" shape-rendering="crispEdges"/>
<rect x="459" y="0" width="26" height="23" fill="#fff"/><rect x="460" y="1" width="24" height="21" fill="url(#dith)" shape-rendering="crispEdges"/><path d="M459.5 22V.5H484" stroke="#9c9c9c" fill="none" shape-rendering="crispEdges"/>
<rect x="619" y="0" width="26" height="23" fill="#fff"/><rect x="620" y="1" width="24" height="21" fill="url(#dith)" shape-rendering="crispEdges"/><path d="M619.5 22V.5H644" stroke="#9c9c9c" fill="none" shape-rendering="crispEdges"/>
<rect x="1065" y="0" width="26" height="23" fill="#fff"/><rect x="1066" y="1" width="24" height="21" fill="url(#dith)" shape-rendering="crispEdges"/><path d="M1065.5 22V.5H1090" stroke="#9c9c9c" fill="none" shape-rendering="crispEdges"/>
</g>
<!-- new order -->
<path d="M16.5 4.5h6.8l3.2 3.2v9.8h-10a1 1 0 0 1-1-1v-11a1 1 0 0 1 1-1z" fill="url(#gDoc)" stroke="#8a8a8a"/>
<path d="M23.3 4.5v3.2h3.2" fill="#fff" stroke="#8a8a8a" stroke-width=".8"/>
<path d="M17.5 7h3M17.5 10h6M17.5 12.5h4" stroke="#9a9a9a" stroke-width="1"/>
<path d="M23.4 10.3h3.6v3.9h3.9v3.6h-3.9v3.9h-3.6v-3.9h-3.900v-3.600h3.900z" fill="url(#gPlus)" stroke="#1aa81a" stroke-width=".6"/>
<!-- gold book -->
<path d="M82 14.200L89.700 20.300L98.300 13.500L98.200 12.200L89.800 18.400L82.100 13.200z" fill="#9c6410"/>
<path d="M82.300 13.900L89.700 19.300L98 12.900" stroke="#f6e7a4" stroke-width=".7" fill="none"/>
<path d="M86.600 5.600C87 4.800 88 4.700 88.500 5.100L97.700 12L89.400 18.100L82.300 13.300z" fill="url(#gGold)" stroke="#b47a16" stroke-width=".6"/>
<path d="M87.200 5.800C86 8.200 84.200 11 82.900 13.100" stroke="#fff3b0" stroke-width="1.100" fill="none" opacity=".85"/>
<!-- server + cloud -->
<path d="M112.400 4.900L119.800 4L123.300 5L115.700 6.100z" fill="#8fd0ff"/>
<path d="M112.400 4.900L115.700 6.100V14.500L112.400 13z" fill="#1766d6"/>
<rect x="115.700" y="6.100" width="7.600" height="8.400" fill="#2a90f6"/>
<rect x="117.200" y="7.900" width="4.800" height="2.500" fill="#e6f2ff"/>
<path d="M113.300 19.700a2.700 2.700 0 0 1-.5-5.300a2.900 2.900 0 0 1 3.300-1.300a3.700 3.700 0 0 1 6.300 .9a3 3 0 0 1 3.800 2.900a2.800 2.800 0 0 1-2.800 2.800z" fill="url(#gCloud)" stroke="#4c6cb4" stroke-width=".9"/>
<!-- signal -->
<g fill="none">
<path d="M146.1 4.2a7.9 7.9 0 0 0 0 15.8" stroke="#3a6ad8" stroke-width="1" opacity=".55"/>
<path d="M146.1 6.6a5.5 5.5 0 0 0 0 11" stroke="#3a6ad8" stroke-width="1" opacity=".75"/>
<path d="M146.1 9a3.1 3.1 0 0 0 0 6.2" stroke="#2a5ad0" stroke-width="1"/>
<path d="M146.1 4.2a7.9 7.9 0 0 1 7.9 7.9" stroke="#8fb08f" stroke-width="1" opacity=".7"/>
<path d="M146.1 6.6a5.5 5.5 0 0 1 5.5 5.5" stroke="#8fb08f" stroke-width="1" opacity=".8"/>
<path d="M146.1 9a3.1 3.1 0 0 1 3.1 3.1" stroke="#7aa07a" stroke-width="1"/>
</g>
<path d="M146.300 12.100H154a7.900 7.900 0 0 1-7.700 7.900z" fill="#6cbc6c" opacity=".45"/><path d="M146.300 4.200a7.900 7.900 0 0 1 7.700 7.900H146.300z" fill="#9cc89c" opacity=".22"/>
<path d="M146.6 12.1V19.8" stroke="#18a018" stroke-width="1.4"/>
<circle cx="146.1" cy="12" r="1.7" fill="#2456d0"/>
<!-- auto trading -->
<path d="M166.2 11.2h14.6l-3.4 5l-3.8 3.6l-3.6-3.4z" fill="#f9dc5a" stroke="#c9a020" stroke-width=".7"/>
<ellipse cx="173.3" cy="9.3" rx="8" ry="2.6" fill="#3f90cf"/>
<ellipse cx="173.3" cy="7" rx="4.6" ry="3.1" fill="#62b0ea"/>
<ellipse cx="173.3" cy="9.6" rx="5" ry="1.3" fill="#2f7cbc"/>
<circle cx="177.4" cy="15.9" r="3.9" fill="#e0200e"/>
<rect x="176.1" y="14.6" width="2.6" height="2.6" fill="#fff"/>
<!-- bar chart -->
<use href="#axes" x="256" y="0"/>
<path d="M265.6 7V15.6M265.6 8.4H268.2M263 14.4H265.6" stroke="#149414" stroke-width="1.4" fill="none"/>
<!-- candle chart -->
<use href="#axes" x="284" y="0"/>
<path d="M293.5 4V16" stroke="#0c8c0c" stroke-width="1.2"/>
<rect x="291.5" y="6.2" width="4" height="7.6" fill="url(#gCandle)" stroke="#0c8c0c" stroke-width=".9"/>
<!-- line chart -->
<use href="#axes" x="312.1" y="0"/>
<path d="M314.2 14.6C317 12.5 318.6 9.2 320.3 9.2C322 9.2 323.5 12 325.7 13.1" stroke="#2a9a2a" stroke-width="1.2" fill="none"/>
<!-- zoom in -->
<path d="M354.6 13.8L360.4 18.6" stroke="#a8820c" stroke-width="3.4" stroke-linecap="round"/>
<path d="M354.6 13.8L360.4 18.6" stroke="#ecc82e" stroke-width="2" stroke-linecap="round"/>
<circle cx="351" cy="10" r="5.4" fill="url(#gLens)" stroke="#2d7bd0" stroke-width="1.2"/>
<path d="M347.8 10h6.4M351 6.8v6.4" stroke="#3f86b4" stroke-width="1.7"/>
<!-- zoom out -->
<path d="M382.5 13.8L388.3 18.6" stroke="#a8820c" stroke-width="3.4" stroke-linecap="round"/>
<path d="M382.5 13.8L388.3 18.6" stroke="#ecc82e" stroke-width="2" stroke-linecap="round"/>
<circle cx="378.9" cy="10" r="5.4" fill="url(#gLens)" stroke="#2d7bd0" stroke-width="1.2"/>
<path d="M375.7 10h6.4" stroke="#3f86b4" stroke-width="1.7"/>
<!-- tile -->
<rect x="401" y="4" width="7.8" height="7.8" fill="#3c9c1c"/><rect x="409" y="4" width="7.9" height="7.8" fill="#1c4cc8"/>
<rect x="401" y="12" width="7.8" height="7.9" fill="#1c4cc8"/><rect x="409" y="12" width="7.9" height="7.9" fill="#3c9c1c"/>
<rect x="402" y="6.600" width="5.800" height="4.400" fill="#fff"/><rect x="410" y="6.600" width="5.900" height="4.400" fill="#fff"/>
<rect x="402" y="14.600" width="5.800" height="4.400" fill="#fff"/><rect x="410" y="14.600" width="5.900" height="4.400" fill="#fff"/>
<path d="M403 8.800h3.800M411 16.800h3.900" stroke="#a8d898" stroke-width="1.200"/><path d="M411 8.800h1.400M413.500 8.800h1.400M403 16.800h1.400M405.400 16.800h1.400" stroke="#a0b4ec" stroke-width="1.200"/>
<!-- autoscroll -->
<use href="#axes" x="436.2" y="0"/>
<path d="M444.2 8.2L447.8 11.5L444.2 14.8z" fill="#6ae46a" stroke="#149414" stroke-width=".9"/>
<!-- chart shift -->
<use href="#axes" x="464.2" y="0"/>
<path d="M473.5 6V15.8" stroke="#1c6ca8" stroke-width="1.3"/>
<path d="M474.6 11.5H479" stroke="#d84a00" stroke-width="1.3"/><path d="M474.4 11.5L477.2 9.2V13.8z" fill="#d84a00"/>
<!-- indicators -->
<path d="M499.5 4.5h6.8l3.2 3.2v9.3h-10a1 1 0 0 1-1-1v-10.5a1 1 0 0 1 1-1z" fill="url(#gDoc)" stroke="#8a8a8a"/>
<path d="M506.3 4.5v3.2h3.2" fill="#fff" stroke="#8a8a8a" stroke-width=".8"/>
<path d="M501.6 7.5c-.8 1-.8 5.5 0 6.5M503 10h2" stroke="#6a5a3a" stroke-width=".9" fill="none"/>
<path d="M506 10.400h4v3.600h3.600v3.900h-3.600v3.600h-4v-3.600h-3.600v-3.900h3.600z" fill="url(#gPlus)" stroke="#1aa41a" stroke-width=".6"/>
<use href="#dd" x="520" y="11"/>
<!-- clock -->
<circle cx="543.9" cy="12.1" r="7.9" fill="url(#gClock)"/>
<circle cx="543.900" cy="12.100" r="5.300" fill="#f4f8fc"/><path d="M543.900 7.600v.9M543.900 15.700v.9M539.400 12.100h.9M547.500 12.100h.9" stroke="#9ab" stroke-width=".8"/>
<path d="M543.6 8.2V12.4H546.6" stroke="#222" stroke-width="1.1" fill="none"/>
<path d="M543.9 14.6h.1" stroke="#6ab0f0" stroke-width="1.2"/>
<use href="#dd" x="559" y="11"/>
<!-- templates -->
<rect x="575.5" y="5.5" width="15.6" height="13.2" fill="#fff" stroke="#3c7ac8" stroke-width="1"/>
<rect x="575.5" y="5.5" width="15.6" height="2.4" fill="#4c8ad8"/>
<path d="M576 13.2h15" stroke="#3c7ac8" stroke-width=".9"/>
<path d="M577.5 11.4l2.2-.2l1.8-1.6l2 1l2-.2l2.400-1.200" stroke="#b02a10" stroke-width="1.200" fill="none"/>
<path d="M578 16.600l2-.8l1.800.6l2.400-2.200l2 .6l1.600 1.600" stroke="#1a8a2a" stroke-width="1.200" fill="none"/>
<use href="#dd" x="597.800" y="11"/>
<!-- cursor -->
<path d="M627.100 5V16.300L629.800 13.800L632.200 18.900L633.900 18L631.600 13.100L635.200 12.600z" fill="#4a4a4a"/>
<!-- crosshair -->
<path d="M659.500 5V11.200M659.500 13.800V20M652 12.500H658.200M660.800 12.500H667" stroke="#484848" stroke-width="1.100"/>
<!-- vline, hline, trendline -->
<path d="M693.500 6V19M716 12.500H728M743.800 18.900L755.900 6.700" stroke="#505050" stroke-width="1.050"/>
<!-- channel -->
<g fill="none">
<path d="M769.700 13.500L777.800 6M770.800 17.600L783.800 6.600M774.800 18.600L784.400 10.500" stroke="#5a5a5a" stroke-width=".7"/>
<path d="M772.300 11.700V18.400M775.300 10.600V15.200M778.500 8.500V14.900M781.600 4.300L782.400 11" stroke="#444" stroke-width="1.300"/>
</g>
<text x="780.800" y="20.900" font-family="Liberation Sans,sans-serif" font-weight="bold" font-size="6.800" fill="#333">E</text>
<!-- fibo -->
<g stroke="#484848" stroke-width="1.100" stroke-dasharray="1.100,0.900" shape-rendering="crispEdges"><path d="M799 5.500h13.200M799 8.500h13.200M799 12.500h13.200M799 16.500h9.200"/></g>
<text x="808.800" y="20.900" font-family="Liberation Sans,sans-serif" font-weight="bold" font-size="6.800" fill="#333">F</text>
<!-- A -->
<text x="829.400" y="16.800" font-family="Liberation Sans,sans-serif" font-size="12.600" fill="#4c4c4c" stroke="#4c4c4c" stroke-width=".3">A</text>
<!-- text label -->
<rect x="856.500" y="6.500" width="11" height="12" fill="none" stroke="#484848" stroke-width="1" stroke-dasharray="1,1" shape-rendering="crispEdges"/>
<rect x="855" y="5.200" width="2" height="1.400" fill="#444"/>
<text x="858.300" y="16.500" font-family="Liberation Sans,sans-serif" font-size="10.600" fill="#484848" stroke="#484848" stroke-width=".35">T</text>
<!-- arrows -->
<path d="M883 9.400L886.400 6L889.900 9.400L886.400 10.900z" fill="#4a4a4a"/>
<path d="M885.400 13.600L887.500 15.500L891.600 10.800" stroke="#4a4a4a" stroke-width="1.500" fill="none"/>
<path d="M890.200 15.600L893.600 14.400L897 15.600L893.600 19z" fill="#4a4a4a"/>
<use href="#dd" x="904" y="11"/>
<!-- search -->
<path d="M1643.200 13L1639.400 16.900" stroke="#2a5ad0" stroke-width="2.600" stroke-linecap="round"/>
<circle cx="1646.700" cy="9.400" r="3.700" fill="#fff" stroke="#2a5ad8" stroke-width="1.400"/>
<!-- chat -->
<path d="M1666.300 20.400L1667.200 17.800A5.400 4.600 0 1 1 1669.600 18.300z" fill="#dcdce8" stroke="#a4a4ac" stroke-width=".8"/>
<circle cx="1677.600" cy="9.400" r="8.400" fill="url(#gBadge)"/>
<text x="1673.600" y="14.200" font-family="Liberation Sans,sans-serif" font-size="12.400" fill="#fff">1</text>
</svg>
<span class="zh" style="left:34px">新订单</span>
<span class="zh" style="left:186px">自动交易</span>
<span class="tf" style="left:930.500px">M1</span>
<span class="tf" style="left:958px">M5</span>
<span class="tf" style="left:984.500px">M15</span>
<span class="tf" style="left:1012px">M30</span>
<span class="tf" style="left:1043px">H1</span>
<span class="tf" style="left:1070.500px">H4</span>
<span class="tf" style="left:1099px">D1</span>
<span class="tf" style="left:1127.500px">W1</span>
<span class="tf" style="left:1154px">MN</span>
</div>
<div id="tbline"></div><div id="lb"></div><div id="rb"></div><div id="bb"></div>
</body></html>
